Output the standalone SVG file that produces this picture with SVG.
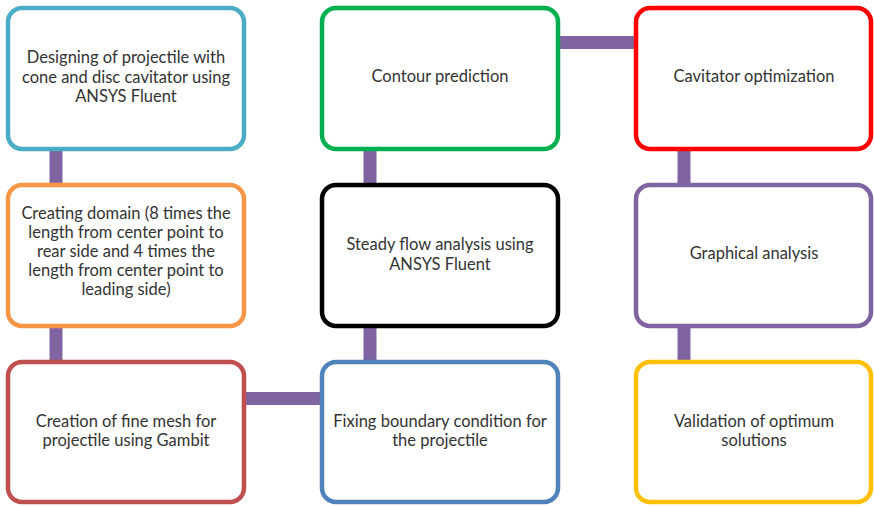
<svg xmlns="http://www.w3.org/2000/svg" width="874" height="507" viewBox="0 0 874 507">
<style>
.box{fill:#fff;stroke-width:4.5}
.t{font-family:Lato,"Open Sans","Liberation Sans",sans-serif;font-size:16.5px;fill:#333;text-anchor:middle}
.c{stroke:#8064A2;stroke-width:13;fill:none}
</style>
<rect width="874" height="507" fill="#fff"/>
<g id="connectors">
<line class="c" x1="56" y1="148" x2="56" y2="186"/>
<line class="c" x1="56" y1="325" x2="56" y2="363"/>
<line class="c" x1="243" y1="398.5" x2="323" y2="398.5"/>
<line class="c" x1="370" y1="148" x2="370" y2="186"/>
<line class="c" x1="370" y1="325" x2="370" y2="363"/>
<line class="c" x1="557" y1="42.5" x2="637" y2="42.5"/>
<line class="c" x1="684" y1="148" x2="684" y2="186"/>
<line class="c" x1="684" y1="325" x2="684" y2="363"/>
</g>
<g id="n1"><rect class="box" x="8" y="8" width="236" height="141" rx="14" stroke="#4BACC6"/>
<text class="t" x="126" y="63">Designing of projectile with</text>
<text class="t" x="126" y="83">cone and disc cavitator using</text>
<text class="t" x="126" y="102">ANSYS Fluent</text></g>
<g id="n2"><rect class="box" x="8" y="185" width="236" height="141" rx="14" stroke="#F79646"/>
<text class="t" x="126" y="219">Creating domain (8 times the</text>
<text class="t" x="126" y="238">length from center point to</text>
<text class="t" x="126" y="257">rear side and 4 times the</text>
<text class="t" x="126" y="276">length from center point to</text>
<text class="t" x="126" y="295">leading side)</text></g>
<g id="n3"><rect class="box" x="8" y="362" width="236" height="140" rx="14" stroke="#C0504D"/>
<text class="t" x="126" y="427">Creation of fine mesh for</text>
<text class="t" x="126" y="446">projectile using Gambit</text></g>
<g id="n4"><rect class="box" x="322" y="8" width="236" height="141" rx="14" stroke="#00B050"/>
<text class="t" x="440" y="82">Contour prediction</text></g>
<g id="n5"><rect class="box" x="322" y="185" width="236" height="141" rx="14" stroke="#000" stroke-width="5"/>
<text class="t" x="440" y="250">Steady flow analysis using</text>
<text class="t" x="440" y="270">ANSYS Fluent</text></g>
<g id="n6"><rect class="box" x="322" y="362" width="236" height="140" rx="14" stroke="#4F81BD"/>
<text class="t" x="440" y="427">Fixing boundary condition for</text>
<text class="t" x="440" y="446">the projectile</text></g>
<g id="n7"><rect class="box" x="636" y="8" width="235" height="141" rx="14" stroke="#FF0000" stroke-width="5"/>
<text class="t" x="754" y="82">Cavitator optimization</text></g>
<g id="n8"><rect class="box" x="636" y="185" width="235" height="141" rx="14" stroke="#8064A2"/>
<text class="t" x="754" y="259">Graphical analysis</text></g>
<g id="n9"><rect class="box" x="636" y="362" width="235" height="140" rx="14" stroke="#FFC000"/>
<text class="t" x="754" y="427">Validation of optimum</text>
<text class="t" x="754" y="446">solutions</text></g>
</svg>
